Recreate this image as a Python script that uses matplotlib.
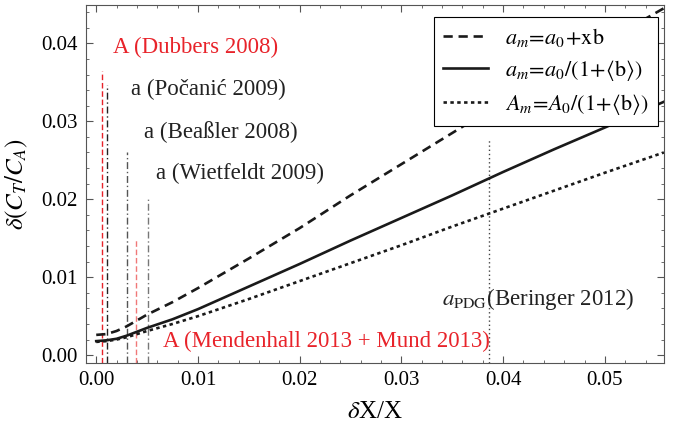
import numpy as np
import matplotlib.pyplot as plt

plt.rcParams['font.family'] = ['Liberation Serif', 'DejaVu Serif']
plt.rcParams['mathtext.fontset'] = 'stix'

# curves
x_pts = [0.0, 0.001, 0.002, 0.003, 0.005, 0.0075, 0.01, 0.015, 0.02, 0.025, 0.03, 0.035, 0.04, 0.045, 0.05, 0.0558]
y_lin = [0.0026, 0.0027, 0.0031, 0.0037, 0.0052, 0.0068, 0.0086, 0.0124, 0.0163, 0.0205, 0.0245, 0.0285, 0.0325, 0.0365, 0.0402, 0.0445]
y_a = [0.0018, 0.0019, 0.0021, 0.0025, 0.0035, 0.0046, 0.0059, 0.0088, 0.0117, 0.0147, 0.0176, 0.0205, 0.0235, 0.0264, 0.0292, 0.0325]
y_A = [0.0017, 0.0018, 0.0020, 0.0023, 0.0031, 0.0040, 0.0050, 0.0072, 0.0095, 0.0118, 0.0141, 0.0165, 0.0188, 0.0211, 0.0234, 0.0260]

# experimental precision markers: position, height
vx = [0.00057, 0.00106, 0.00306, 0.00388, 0.0051, 0.0386]
vtop = [0.0365, 0.0347, 0.0260, 0.0150, 0.0201, 0.0278]
vcol = ['#e8232a', '#222222', '#555555', '#f07878', '#777777', '#444444']
vls = [(0, (4, 2)), (0, (5, 2, 1, 2)), (0, (5, 2, 1, 2)), (0, (4, 2)), (0, (5, 2, 1, 2)), (0, (1, 2))]

labels = ['A (Dubbers 2008)', 'a (Počanić 2009)', 'a (Beaßler 2008)', 'a (Wietfeldt 2009)',
          'A (Mendenhall 2013 + Mund 2013)', r'$a_{\mathrm{PDG}}$(Beringer 2012)']
lab_x = [0.0016, 0.0034, 0.0047, 0.0059, 0.0066, 0.0340]
lab_y = [0.0395, 0.0341, 0.0286, 0.0233, 0.0018, 0.0072]
lab_col = ['#e8232a', '#222222', '#222222', '#222222', '#e8232a', '#222222']

fig = plt.figure(figsize=(6.83, 4.28), dpi=100)
ax = fig.add_axes([0.126, 0.152, 0.846, 0.836])

for x, t, c, ls in zip(vx, vtop, vcol, vls):
    ax.vlines(x, -0.001, t, colors=c, linestyles=[ls], lw=1.0)

ax.plot(x_pts, y_lin, color='#1a1a1a', lw=1.9, ls=(0, (3.5, 2.2)), label=r'$a_m\!=\!a_0\!+\!\mathrm{xb}$')
ax.plot(x_pts, y_a, color='#1a1a1a', lw=1.9, ls='-', label=r'$a_m\!=\!a_0/(1\!+\!\langle\mathrm{b}\rangle)$')
ax.plot(x_pts, y_A, color='#1a1a1a', lw=1.9, ls=(0, (1.3, 1.3)), label=r'$A_m\!=\!A_0/(1\!+\!\langle\mathrm{b}\rangle)$')

for t, x, y, c in zip(labels, lab_x, lab_y, lab_col):
    ax.text(x, y, t, color=c, fontsize=16.5, va='center', ha='left')

ax.set_xlim(-0.001, 0.0558)
ax.set_ylim(-0.001, 0.0449)
ax.set_xticks([0.0, 0.01, 0.02, 0.03, 0.04, 0.05])
ax.set_yticks([0.0, 0.01, 0.02, 0.03, 0.04])
ax.set_xticks(np.arange(0, 0.056, 0.002), minor=True)
ax.set_yticks(np.arange(0, 0.045, 0.002), minor=True)
ax.set_xticklabels(['0.00', '0.01', '0.02', '0.03', '0.04', '0.05'])
ax.set_yticklabels(['0.00', '0.01', '0.02', '0.03', '0.04'])
ax.tick_params(which='both', direction='in', top=True, right=True, color='#555555', labelsize=15)
ax.tick_params(which='major', length=5, width=0.8, pad=6)
ax.tick_params(which='minor', length=2.5, width=0.6)
for s in ax.spines.values():
    s.set_color('#555555')
    s.set_linewidth(0.8)

ax.set_xlabel(r'$\delta$X/X', fontsize=18, labelpad=8)
ax.set_ylabel(r'$\delta(C_T/C_A)$', fontsize=18, labelpad=8)

leg = ax.legend(loc='upper right', bbox_to_anchor=(0.99, 0.966), borderaxespad=0,
                fontsize=16, handlelength=2.0, labelspacing=0.4, fancybox=False,
                framealpha=1, edgecolor='black', borderpad=0.4)
leg.get_frame().set_linewidth(0.8)

fig.savefig('out.png', dpi=100)
